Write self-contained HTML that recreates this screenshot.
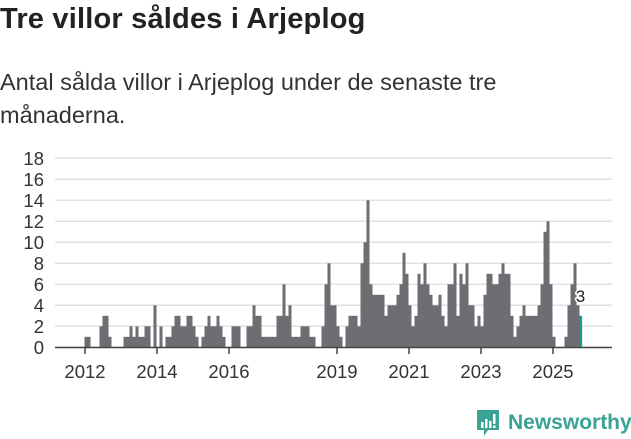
<!DOCTYPE html>
<html><head><meta charset="utf-8">
<style>
body{margin:0;width:631px;height:439px;background:#fff;overflow:hidden;font-family:"Liberation Sans",sans-serif;color:#222;}
#title{position:absolute;left:0;top:3px;font-size:29px;font-weight:bold;margin:0;letter-spacing:0.2px;}
#subtitle{position:absolute;left:0;top:66px;font-size:23.5px;line-height:33px;width:540px;margin:0;color:#333;}
svg{position:absolute;left:0;top:0;}
</style></head><body>
<h1 id="title">Tre villor såldes i Arjeplog</h1>
<p id="subtitle">Antal sålda villor i Arjeplog under de senaste tre månaderna.</p>
<svg id="chart" width="631" height="439"></svg>
<script>
const values = [1,1,0,0,0,2,3,3,1,0,0,0, 0,1,1,2,1,2,1,1,2,2,0,4, 0,2,0,1,1,2,3,3,2,2,3,3, 2,1,0,1,2,3,2,2,3,2,1,0, 0,2,2,2,0,0,2,2,4,3,3,1, 1,1,1,1,3,3,6,3,4,1,1,1, 2,2,2,1,1,0,0,2,6,8,4,4, 2,1,0,2,3,3,3,2,8,10,14,6, 5,5,5,5,3,4,4,4,5,6,9,7, 4,2,3,7,6,8,6,5,4,4,5,3, 2,6,6,8,3,7,6,8,4,4,2,3, 2,5,7,7,6,6,7,8,7,7,3,1, 2,3,4,3,3,3,3,4,6,11,12,6, 1,0,0,0,1,4,6,8,4,3];
const yTicks = [0,2,4,6,8,10,12,14,16,18];
const yearTicks = [2012,2014,2016,2019,2021,2023,2025];
const startYear = 2012;
const NS='http://www.w3.org/2000/svg';
const svg=document.getElementById('chart');
const y = v => 347.3 - 10.5*v;
const x = m => 84.5 + 3*m;
function mk(t,a){const e=document.createElementNS(NS,t);for(const k in a)e.setAttribute(k,a[k]);svg.appendChild(e);return e;}
yTicks.forEach(v=>{
  const g=mk('line',{x1:55,x2:612,y1:y(v),y2:y(v),stroke:'#e2e2e2','stroke-width':1.5});
  
  
  const t=mk('text',{x:44,y:y(v)+6.5,'text-anchor':'end','font-size':18.5,fill:'#333'});
  t.textContent=v;
  
  
});
values.forEach((v,i)=>{
  if(v<=0)return;
  const last=i===values.length-1;
  const r=mk('rect',{x:x(i),y:y(v),width:last?2.6:3,height:y(0)-y(v),fill:last?'#1a9a8d':'#6e6d73'});
  
  
});
const li=values.length-1;
const lbl=mk('text',{x:x(li)+1,y:y(values[li])-14,'text-anchor':'middle','font-size':17,fill:'#222',stroke:'#fff','stroke-width':3,'paint-order':'stroke'});
lbl.textContent=values[li];


const ax=mk('line',{x1:55,x2:612,y1:347.5,y2:347.5,stroke:'#444','stroke-width':1.5});


yearTicks.forEach(yr=>{
  const m=(yr-startYear)*12;
  const tk=mk('line',{x1:x(m)+0.5,x2:x(m)+0.5,y1:347,y2:354,stroke:'#444','stroke-width':1.5});
  
  
  const t=mk('text',{x:x(m)+0.5,y:378,'text-anchor':'middle','font-size':18.5,fill:'#333'});
  t.textContent=yr;
  
  
});
</script>
<svg width="631" height="439" style="pointer-events:none">
  <path d="M477 410 h22 v20 h-11 l-4 6 v-6 h-7 z" fill="#3aa394"/>
  <rect x="481" y="422" width="2.5" height="6" fill="#fff"/>
  <rect x="485" y="419" width="2.5" height="9" fill="#fff"/>
  <rect x="489" y="421" width="2.5" height="7" fill="#fff"/>
  <rect x="493" y="414" width="2.5" height="10" fill="#fff"/>
  <rect x="493" y="425.5" width="2.5" height="2.5" fill="#fff"/>
  <text x="508" y="429" font-size="21" font-weight="bold" fill="#3aa394" font-family="Liberation Sans, sans-serif">Newsworthy</text>
</svg>
</body></html>
